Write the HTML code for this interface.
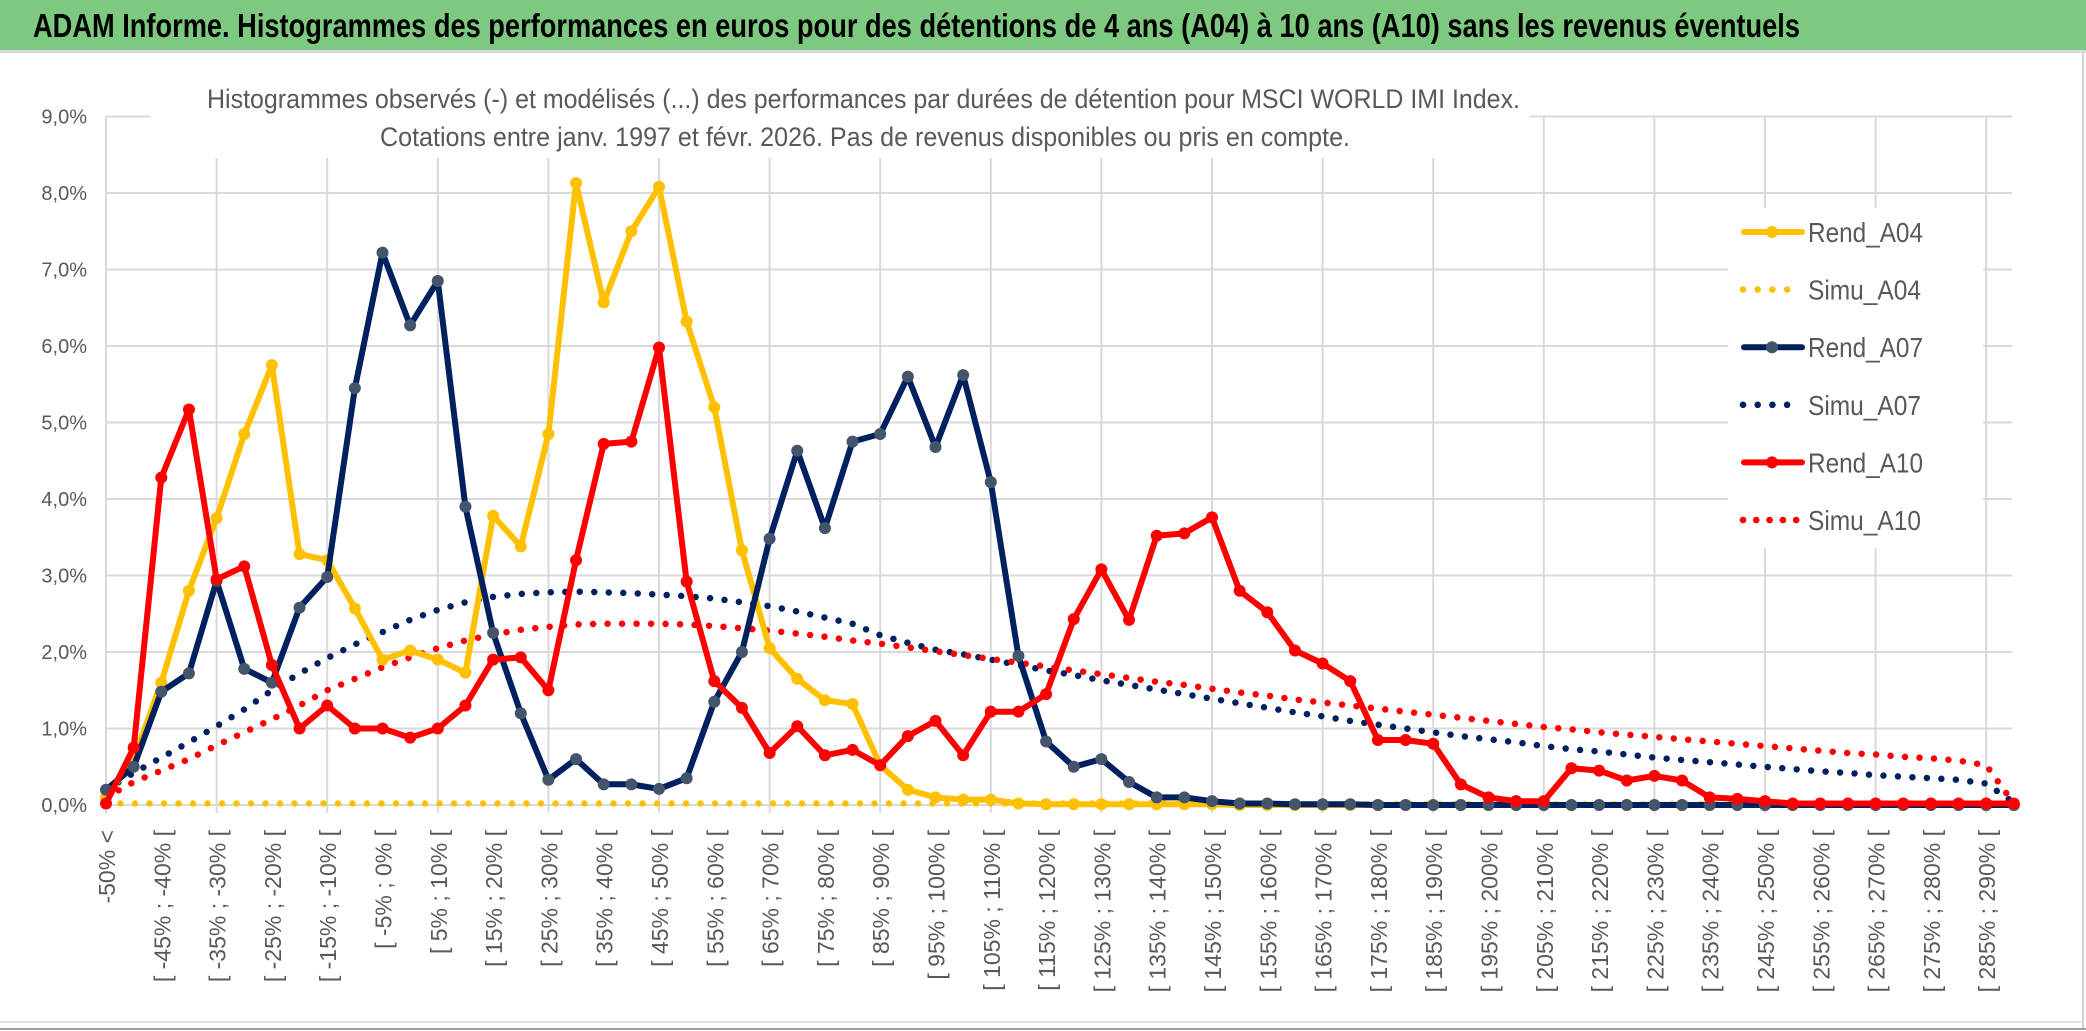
<!DOCTYPE html>
<html><head><meta charset="utf-8">
<style>
html,body{margin:0;padding:0;background:#fff;}
svg{display:block;}
text{font-family:"Liberation Sans Narrow","Liberation Sans",sans-serif;}
</style></head>
<body>
<svg id="chart" width="2086" height="1031" viewBox="0 0 2086 1031" xmlns="http://www.w3.org/2000/svg">
  <rect x="0" y="0" width="2086" height="1031" fill="#fff"/>
  <rect x="0" y="0" width="2086" height="50" fill="#7dc97f"/>
  <line x1="0" y1="51.5" x2="2086" y2="51.5" stroke="#d9d9d9" stroke-width="3"/>
  <text x="33" y="37" font-size="33" font-weight="bold" fill="#000" textLength="1767" lengthAdjust="spacingAndGlyphs">ADAM Informe. Histogrammes des performances en euros pour des détentions de 4 ans (A04) à 10 ans (A10) sans les revenus éventuels</text>
  <line x1="2083" y1="52" x2="2083" y2="1028" stroke="#d0d0d0" stroke-width="2"/>
  <line x1="0" y1="1022" x2="2083" y2="1022" stroke="#e0e0e0" stroke-width="2"/>
  <line x1="0" y1="1029" x2="2086" y2="1029" stroke="#a0a0a0" stroke-width="2"/>
  <g id="grid"></g>
  <g id="yaxis"></g>
  <g id="xaxis"></g>
  <rect x="150" y="72" width="1380" height="86" fill="#fff"/>
  <text x="207" y="108" font-size="27" fill="#595959" textLength="1313" lengthAdjust="spacingAndGlyphs">Histogrammes observés (-) et modélisés (...) des performances par durées de détention pour MSCI WORLD IMI Index.</text>
  <text x="380" y="146" font-size="27" fill="#595959" textLength="970" lengthAdjust="spacingAndGlyphs">Cotations entre janv. 1997 et févr. 2026. Pas de revenus disponibles ou pris en compte.</text>
  <g id="series"></g>
  <g id="legend"></g>
</svg>
<script>
const categoryCount = 70;
const yTicks = [0,1,2,3,4,5,6,7,8,9];
const rendA04 = [0.1,0.6,1.6,2.8,3.75,4.85,5.75,3.28,3.2,2.57,1.9,2.02,1.9,1.73,3.78,3.38,4.85,8.13,6.57,7.5,8.08,6.32,5.2,3.33,2.05,1.65,1.37,1.32,0.52,0.2,0.1,0.07,0.07,0.02,0.01,0.01,0.01,0.01,0.01,0.01,0.01,0,0,0,0,0,0,0,0,0,0,0,0,0,0,0,0,0,0,0,0,0,0,0,0,0,0,0,0,0];
const rendA07 = [0.2,0.5,1.48,1.72,2.93,1.78,1.6,2.58,2.98,5.45,7.22,6.27,6.85,3.9,2.25,1.2,0.33,0.6,0.27,0.27,0.21,0.35,1.35,2.0,3.48,4.63,3.62,4.75,4.85,5.6,4.68,5.62,4.22,1.95,0.83,0.5,0.6,0.3,0.1,0.1,0.05,0.02,0.02,0.01,0.01,0.01,0,0,0,0,0,0,0,0,0,0,0,0,0,0,0,0,0,0,0,0,0,0,0,0];
const rendA10 = [0.02,0.75,4.28,5.17,2.95,3.12,1.83,1.0,1.3,1.0,1.0,0.88,1.0,1.3,1.9,1.93,1.5,3.2,4.72,4.75,5.98,2.92,1.62,1.27,0.68,1.03,0.65,0.72,0.52,0.9,1.1,0.65,1.22,1.22,1.45,2.43,3.08,2.42,3.52,3.55,3.76,2.8,2.52,2.02,1.85,1.62,0.85,0.85,0.8,0.27,0.1,0.05,0.05,0.48,0.45,0.32,0.38,0.32,0.1,0.08,0.05,0.02,0.02,0.02,0.02,0.02,0.02,0.02,0.02,0.02];
const simuA04 = [0.02,0.02,0.02,0.02,0.02,0.02,0.02,0.02,0.02,0.02,0.02,0.02,0.02,0.02,0.02,0.02,0.02,0.02,0.02,0.02,0.02,0.02,0.02,0.02,0.02,0.02,0.02,0.02,0.02,0.02,0.02,0.02,0.02,0.02,0.02,0.02,0.02,0.02,0.02,0.02,0.02,0.01,0.01,0.01,0.01,0.01,0.01,0.01,0.01,0.01,0.01,0.01,0.01,0.01,0.01,0.01,0.01,0.01,0.01,0.01,0.01,0.01,0.01,0.01,0.01,0.01,0.01,0.01,0.01,0.01];
const simuA07 = [0.2,0.42,0.62,0.82,1.03,1.25,1.5,1.72,1.92,2.1,2.26,2.42,2.55,2.65,2.72,2.76,2.78,2.79,2.78,2.77,2.75,2.73,2.7,2.65,2.6,2.53,2.45,2.37,2.22,2.12,2.03,1.97,1.9,1.83,1.76,1.7,1.63,1.57,1.51,1.45,1.39,1.33,1.27,1.21,1.16,1.1,1.05,1.0,0.95,0.9,0.86,0.82,0.77,0.73,0.7,0.66,0.62,0.59,0.56,0.53,0.5,0.47,0.44,0.42,0.39,0.37,0.35,0.33,0.28,0.03];
const simuA10 = [0.1,0.3,0.45,0.6,0.78,0.95,1.12,1.3,1.5,1.65,1.8,1.93,2.05,2.15,2.23,2.29,2.33,2.36,2.37,2.37,2.37,2.36,2.34,2.31,2.28,2.24,2.2,2.15,2.11,2.06,2.01,1.96,1.91,1.86,1.81,1.76,1.71,1.66,1.61,1.57,1.52,1.47,1.43,1.38,1.34,1.3,1.26,1.22,1.18,1.14,1.1,1.06,1.02,0.99,0.95,0.92,0.89,0.86,0.83,0.8,0.77,0.74,0.71,0.68,0.66,0.63,0.61,0.58,0.52,0.02];

const NS = "http://www.w3.org/2000/svg";
const X0 = 106, XSTEP = 27.65, Y0 = 805, YUNIT = 76.5, XR = 2012;
function xPos(i){ return X0 + XSTEP*i; }
function yPos(v){ return Y0 - YUNIT*v; }
function mk(tag, attrs, parent){
  const el = document.createElementNS(NS, tag);
  for (const k in attrs) el.setAttribute(k, attrs[k]);
  parent.appendChild(el);
  return el;
}
function catLabel(i){
  if (i === 0) return "-50% <";
  const lo = -55 + 5*i;
  return "[ " + lo + "% ; " + (lo+5) + "% [";
}

const grid = document.getElementById('grid');
yTicks.forEach(t => {
  const l = mk('line', {x1:X0, x2:XR, y1:yPos(t), y2:yPos(t), stroke:'#d9d9d9', 'stroke-width':2}, grid);
  
  
});
for (let i = 0; i < categoryCount; i += 4) {
  const l = mk('line', {x1:xPos(i), x2:xPos(i), y1:yPos(9), y2:yPos(0)+8, stroke:'#d9d9d9', 'stroke-width':2}, grid);
  
  
}

const yaxis = document.getElementById('yaxis');
yTicks.forEach(t => {
  const tx = mk('text', {x:87, y:yPos(t)+7, 'font-size':20, fill:'#595959', 'text-anchor':'end', 'font-family':'"Liberation Sans", sans-serif'}, yaxis);
  tx.textContent = t.toFixed(1).replace('.', ',') + '%';
  
  
});

const xaxis = document.getElementById('xaxis');
for (let i = 0; i < categoryCount; i += 2) {
  const x = xPos(i) + 1, y = 830;
  const tx = mk('text', {x:x, y:y, 'font-size':23, fill:'#595959', 'text-anchor':'end', 'dominant-baseline':'central', transform:'rotate(-90 '+x+' '+y+')', 'font-family':'"Liberation Sans", sans-serif'}, xaxis);
  tx.textContent = catLabel(i);
  
  
}

const seriesG = document.getElementById('series');
function pts(arr){ return arr.map((v,i)=> xPos(i).toFixed(1)+','+yPos(v).toFixed(1)).join(' '); }
function dotted(arr, color, name){
  const p = mk('polyline', {points:pts(arr), fill:'none', stroke:color, 'stroke-width':6.5, 'stroke-linecap':'round', 'stroke-dasharray':'0 14.5'}, seriesG);
  
  
}
function solid(arr, color, marker, name){
  const g = mk('g', {}, seriesG);
  
  
  const p = mk('polyline', {points:pts(arr), fill:'none', stroke:color, 'stroke-width':6, 'stroke-linejoin':'round'}, g);
  
  
  arr.forEach((v,i) => {
    const c = mk('circle', {cx:xPos(i), cy:yPos(v), r:6, fill:marker}, g);
    
    
  });
}
dotted(simuA04, '#FFC000', 'simu-a04-line');
dotted(simuA07, '#002060', 'simu-a07-line');
dotted(simuA10, '#FF0000', 'simu-a10-line');
solid(rendA04, '#FFC000', '#FFC000', 'rend-a04');
solid(rendA07, '#002060', '#44546A', 'rend-a07');
solid(rendA10, '#FF0000', '#FF0000', 'rend-a10');

const legend = document.getElementById('legend');
const legendNames = ['Rend_A04','Simu_A04','Rend_A07','Simu_A07','Rend_A10','Simu_A10'];
const legendColors = ['#FFC000','#FFC000','#002060','#002060','#FF0000','#FF0000'];
const legendMarkers = ['#FFC000',null,'#44546A',null,'#FF0000',null];
const bg = mk('rect', {x:1728, y:208, width:255, height:340, fill:'#fff'}, legend);


legendNames.forEach((n, k) => {
  const y = 232 + k*57.6;
  const g = mk('g', {}, legend);
  
  
  if (legendMarkers[k]) {
    mk('line', {x1:1744, x2:1802, y1:y, y2:y, stroke:legendColors[k], 'stroke-width':6, 'stroke-linecap':'round'}, g);
    mk('circle', {cx:1772, cy:y, r:6, fill:legendMarkers[k]}, g);
  } else {
    const n2 = (k===5) ? 5 : 4;
    for (let d = 0; d < n2; d++) mk('circle', {cx:1743 + d*(k===5?13.3:14.7), cy:y, r:3.3, fill:legendColors[k]}, g);
  }
  const t = mk('text', {x:1808, y:y+10, 'font-size':28, fill:'#595959', textLength:(k%2===0?115:113), lengthAdjust:'spacingAndGlyphs'}, g);
  t.textContent = n;
  
  
});
</script>
</body></html>
